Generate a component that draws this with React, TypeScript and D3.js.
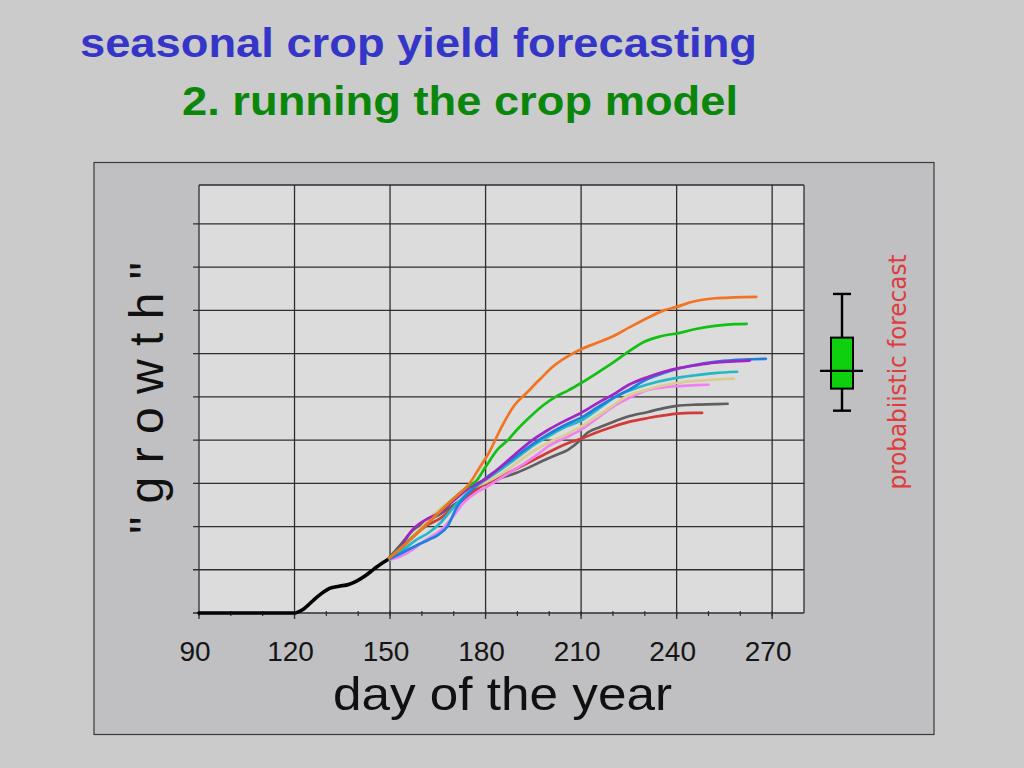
import React from "react";
import * as d3 from "d3";

// day of year, growth
const baseRun: [number, number][] = [
  [90, 0], [120, 0], [121, 0.02], [123, 0.1], [126, 0.3], [129, 0.48], [131, 0.57],
  [134, 0.62], [137, 0.66], [139, 0.72], [142, 0.85], [145, 1.02], [147, 1.13], [149, 1.22],
];

const orangeRun: [number, number][] = [
  [149, 1.22], [155, 1.6], [160, 1.95], [165, 2.3], [170, 2.65], [175, 3.0], [178, 3.35],
  [181, 3.7], [185, 4.3], [189, 4.8], [193, 5.1], [197, 5.4], [201, 5.69], [205, 5.9],
  [210, 6.1], [215, 6.25], [220, 6.4], [225, 6.6], [231, 6.83], [236, 7.0], [240, 7.08],
  [245, 7.2], [252, 7.28], [258, 7.3], [265, 7.31],
];
const greenRun: [number, number][] = [
  [149, 1.22], [155, 1.62], [160, 1.95], [165, 2.3], [170, 2.65], [175, 2.95], [177, 3.05],
  [180, 3.38], [184, 3.8], [187, 4.0], [190, 4.25], [194, 4.54], [198, 4.8], [202, 5.0],
  [206, 5.15], [210, 5.32], [215, 5.55], [220, 5.79], [225, 6.05], [230, 6.28], [235, 6.4],
  [241, 6.48], [246, 6.57], [252, 6.64], [258, 6.68], [262, 6.69],
];
const purpleRun: [number, number][] = [
  [149, 1.22], [153, 1.5], [157, 1.92], [161, 2.15], [166, 2.34], [170, 2.6], [175, 2.9],
  [180, 3.1], [185, 3.4], [190, 3.72], [194, 3.96], [200, 4.25], [205, 4.45], [210, 4.63],
  [215, 4.85], [220, 5.05], [225, 5.28], [231, 5.46], [236, 5.58], [241, 5.67], [246, 5.73],
  [252, 5.79], [258, 5.82], [263, 5.84],
];
const blueRun: [number, number][] = [
  [149, 1.22], [154, 1.4], [158, 1.55], [162, 1.69], [165, 1.8], [168, 2.0], [171, 2.45],
  [175, 2.8], [180, 3.12], [185, 3.38], [190, 3.65], [195, 3.92], [200, 4.15], [205, 4.35],
  [210, 4.52], [215, 4.75], [220, 4.97], [225, 5.16], [230, 5.38], [236, 5.55], [241, 5.66],
  [246, 5.74], [252, 5.81], [258, 5.85], [264, 5.87], [268, 5.88],
];
const cyanRun: [number, number][] = [
  [149, 1.22], [154, 1.45], [158, 1.68], [162, 1.85], [166, 2.1], [170, 2.45], [175, 2.82],
  [180, 3.08], [185, 3.33], [190, 3.6], [195, 3.88], [200, 4.1], [205, 4.3], [210, 4.45],
  [215, 4.7], [222, 5.05], [228, 5.22], [234, 5.35], [240, 5.44], [246, 5.5], [252, 5.55],
  [259, 5.58],
];
const beigeRun: [number, number][] = [
  [149, 1.22], [154, 1.55], [159, 1.92], [164, 2.3], [168, 2.54], [172, 2.75], [176, 2.9],
  [180, 3.02], [185, 3.22], [190, 3.48], [194, 3.7], [200, 3.95], [205, 4.12], [210, 4.31],
  [215, 4.55], [220, 4.8], [224, 5.0], [230, 5.15], [235, 5.25], [240, 5.32], [246, 5.37],
  [252, 5.4], [258, 5.42],
];
const pinkRun: [number, number][] = [
  [149, 1.22], [153, 1.3], [157, 1.46], [161, 1.68], [166, 1.92], [170, 2.25], [173, 2.54],
  [177, 2.78], [180, 2.9], [184, 3.08], [188, 3.27], [192, 3.45], [196, 3.65], [200, 3.87],
  [205, 4.05], [210, 4.24], [215, 4.5], [220, 4.77], [225, 4.97], [231, 5.16], [236, 5.22],
  [241, 5.25], [246, 5.27], [250, 5.28],
];
const grayRun: [number, number][] = [
  [149, 1.22], [153, 1.55], [157, 1.9], [161, 2.1], [166, 2.3], [170, 2.5], [175, 2.75],
  [178, 2.92], [182, 3.05], [186, 3.15], [190, 3.25], [194, 3.38], [198, 3.52], [202, 3.65],
  [206, 3.78], [209, 3.95], [212, 4.17], [216, 4.3], [220, 4.42], [225, 4.55], [231, 4.65],
  [236, 4.74], [240, 4.79], [246, 4.82], [252, 4.83], [256, 4.84],
];
const redRun: [number, number][] = [
  [149, 1.22], [153, 1.45], [157, 1.75], [161, 2.0], [166, 2.2], [170, 2.45], [175, 2.72],
  [178, 2.9], [182, 3.05], [186, 3.2], [190, 3.35], [194, 3.5], [198, 3.65], [202, 3.8],
  [206, 3.93], [210, 4.03], [215, 4.18], [220, 4.31], [225, 4.42], [231, 4.51], [236, 4.57],
  [240, 4.61], [245, 4.63], [248, 4.63],
];

// min, q1, median, q3, max of the forecast
const forecastBox = [4.68, 5.19, 5.6, 6.37, 7.38];

const xTicks = [90, 120, 150, 180, 210, 240, 270];
const xMinorTicks = d3.range(90, 280, 10);
const yGrid = d3.range(0, 10, 1);

const ensemble = [
  { data: grayRun, color: "#5f5f5f" },
  { data: redRun, color: "#d23a3a" },
  { data: pinkRun, color: "#f080f0" },
  { data: beigeRun, color: "#dccb94" },
  { data: cyanRun, color: "#22b8c4" },
  { data: blueRun, color: "#1f7fe0" },
  { data: purpleRun, color: "#a324c4" },
  { data: greenRun, color: "#12c012" },
  { data: orangeRun, color: "#f27422" },
];

const sans = "Liberation Sans, Arial, sans-serif";

export default function App() {
  const W = 1024;
  const H = 768;
  const plot = { left: 199, right: 804, top: 185, bottom: 613 };

  const x = d3.scaleLinear().domain([90, 280]).range([plot.left, plot.right]);
  const y = d3.scaleLinear().domain([0, 9.9]).range([plot.bottom, plot.top]);

  const line = d3
    .line<[number, number]>()
    .x((d) => x(d[0]))
    .y((d) => y(d[1]))
    .curve(d3.curveMonotoneX);

  const boxX = 842;
  const [bMin, bQ1, bMed, bQ3, bMax] = forecastBox;

  return (
    <svg
      width={W}
      height={H}
      style={{ position: "absolute", left: 0, top: 0, display: "block" }}
    >
      <rect width={W} height={H} fill="#cbcbcb" />
      <text x={80} y={57} fontFamily={sans} fontWeight="bold" fontSize={40} fill="#3535c8"
        textLength={677} lengthAdjust="spacingAndGlyphs">
        seasonal crop yield forecasting
      </text>
      <text x={182} y={115} fontFamily={sans} fontWeight="bold" fontSize={40} fill="#0a870a"
        textLength={556} lengthAdjust="spacingAndGlyphs">
        2. running the crop model
      </text>

      <rect x={94} y={162.5} width={840} height={572} fill="#c0bfc1" stroke="#3a3a3a" strokeWidth={1.2} />
      <rect x={plot.left} y={plot.top} width={plot.right - plot.left} height={plot.bottom - plot.top} fill="#dcdcdc" />

      {/* grid */}
      {yGrid.map((v) => (
        <line key={"h" + v} x1={plot.left - 6} x2={plot.right} y1={y(v)} y2={y(v)} stroke="#2e2e2e" strokeWidth={1.3} />
      ))}
      {xTicks.map((v) => (
        <line key={"v" + v} x1={x(v)} x2={x(v)} y1={plot.top} y2={plot.bottom + 6} stroke="#2e2e2e" strokeWidth={1.3} />
      ))}
      {xMinorTicks.map((v) => (
        <line key={"m" + v} x1={x(v)} x2={x(v)} y1={plot.bottom - 2} y2={plot.bottom + 3} stroke="#2e2e2e" strokeWidth={1.2} />
      ))}
      <line x1={plot.left} x2={plot.right} y1={plot.top} y2={plot.top} stroke="#2e2e2e" strokeWidth={1.3} />
      <line x1={plot.right} x2={plot.right} y1={plot.top} y2={plot.bottom} stroke="#2e2e2e" strokeWidth={1.3} />

      {/* runs */}
      {ensemble.map((s, i) => (
        <path key={i} d={line(s.data) ?? ""} fill="none" stroke={s.color} strokeWidth={2.7} strokeLinejoin="round" strokeLinecap="round" />
      ))}
      <path d={line(baseRun) ?? ""} fill="none" stroke="#000" strokeWidth={3.6} strokeLinejoin="round" strokeLinecap="round" />

      {/* tick labels */}
      {xTicks.map((v) => (
        <text key={"t" + v} x={x(v) - 4} y={661} textAnchor="middle" fontFamily={sans} fontSize={28} fill="#151515">
          {v}
        </text>
      ))}
      <text x={333} y={710} fontFamily={sans} fontSize={47} fill="#101010"
        textLength={339} lengthAdjust="spacingAndGlyphs">
        day of the year
      </text>
      <text
        transform={`translate(163, 398) rotate(-90)`}
        textAnchor="middle"
        fontFamily={sans}
        fontSize={48}
        fill="#101010"
      >
        " g r o w t h "
      </text>

      {/* forecast box */}
      <line x1={boxX} x2={boxX} y1={y(bMax)} y2={y(bMin)} stroke="#000" strokeWidth={2.4} />
      <line x1={boxX - 9} x2={boxX + 9} y1={y(bMax)} y2={y(bMax)} stroke="#000" strokeWidth={2.4} />
      <line x1={boxX - 9} x2={boxX + 9} y1={y(bMin)} y2={y(bMin)} stroke="#000" strokeWidth={2.4} />
      <rect x={boxX - 11} y={y(bQ3)} width={22} height={y(bQ1) - y(bQ3)} fill="#0fd00f" stroke="#000" strokeWidth={2} />
      <line x1={boxX - 22} x2={boxX + 21} y1={y(bMed)} y2={y(bMed)} stroke="#000" strokeWidth={2.4} />
      <text
        transform={`translate(906, 372) rotate(-90)`}
        textAnchor="middle"
        fontFamily="DejaVu Sans, sans-serif"
        fontSize={24}
        fill="#df3d3d"
        textLength={235}
        lengthAdjust="spacingAndGlyphs"
      >
        probabiistic forecast
      </text>
    </svg>
  );
}
